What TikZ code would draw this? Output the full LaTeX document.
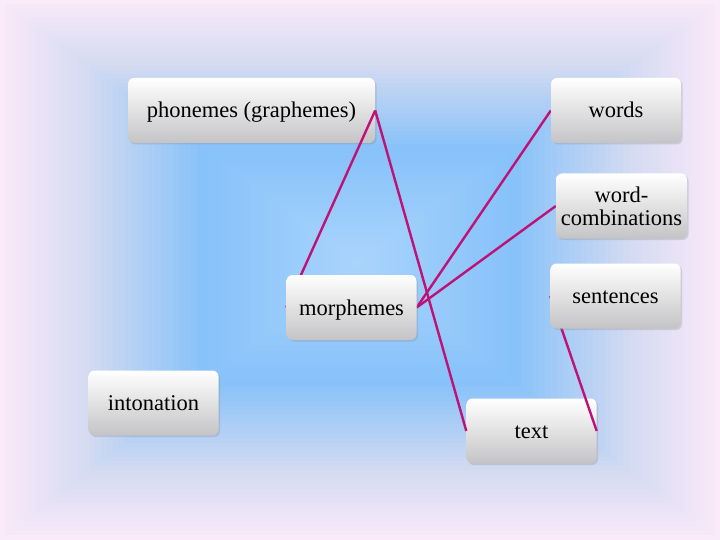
\documentclass[tikz,border=0pt]{standalone}
\usepackage{fontspec}
\setmainfont{Liberation Serif}
\usetikzlibrary{shadows}
\definecolor{linkc}{RGB}{190,18,118}
\definecolor{boxbot}{RGB}{196,196,198}
\pgfdeclarelayer{bg}
\pgfdeclarelayer{mid}
\pgfsetlayers{bg,mid,main}
\tikzset{
 box/.style={rounded corners=6pt, top color=white, bottom color=boxbot, minimum height=65pt, minimum width=130pt,
   font=\fontsize{22.5}{23}\selectfont, inner sep=2pt, align=center,
   drop shadow={shadow xshift=1.5pt, shadow yshift=-1.5pt, opacity=0.25}},
 onebox/.style={box, text height=20pt, text depth=5pt},
 link/.style={draw=linkc, line width=2.4pt}
}
\begin{document}
\begin{tikzpicture}[x=1pt,y=-1pt]
\useasboundingbox (0,0) rectangle (720,540);
\begin{pgfonlayer}{bg}
\fill[color={rgb,255:red,250;green,234;blue,250}] (0,0) rectangle (720,540);
\foreach \i in {1,...,60}{
  \pgfmathsetmacro{\t}{1-\i/60}
  \pgfmathsetmacro{\r}{int(ifthenelse(\t<0.44, 170+(135-170)*\t/0.44, ifthenelse(\t<0.75, 135+(210-135)*(\t-0.44)/0.31, 210+(250-210)*(\t-0.75)/0.25)))}
  \pgfmathsetmacro{\g}{int(ifthenelse(\t<0.44, 213+(194-213)*\t/0.44, ifthenelse(\t<0.75, 194+(218-194)*(\t-0.44)/0.31, 218+(234-218)*(\t-0.75)/0.25)))}
  \pgfmathsetmacro{\b}{int(ifthenelse(\t<0.44, 252+(250-252)*\t/0.44, ifthenelse(\t<0.75, 250+(242-250)*(\t-0.44)/0.31, 242+(250-242)*(\t-0.75)/0.25)))}
  \definecolor{cur}{RGB}{\r,\g,\b}
  \fill[cur] ({358-358*\t},{262-262*\t}) rectangle ({358+362*\t},{262+278*\t});
}
\node[onebox, minimum width=247pt] (ph) at (251.5,110.5) {phonemes (graphemes)};
\node[onebox] (te) at (531.5,431) {text};
\end{pgfonlayer}
\node[onebox] (wo) at (616,110.5) {words};
\node[box, minimum width=131pt] (wc) at (621.5,206) {word-\\combinations};
\node[onebox] (se) at (615.5,296) {sentences};
\node[onebox] (mo) at (351.5,307.5) {morphemes};
\node[onebox] (in) at (153.5,403) {intonation};
\begin{pgfonlayer}{mid}
\draw[link] (ph.east) -- (mo.west);
\draw[link] (ph.east) -- (te.west);
\draw[link] (mo.east) -- (wo.west);
\draw[link] (mo.east) -- (wc.west);
\draw[link] (se.west) -- (te.east);
\end{pgfonlayer}
\end{tikzpicture}
\end{document}
